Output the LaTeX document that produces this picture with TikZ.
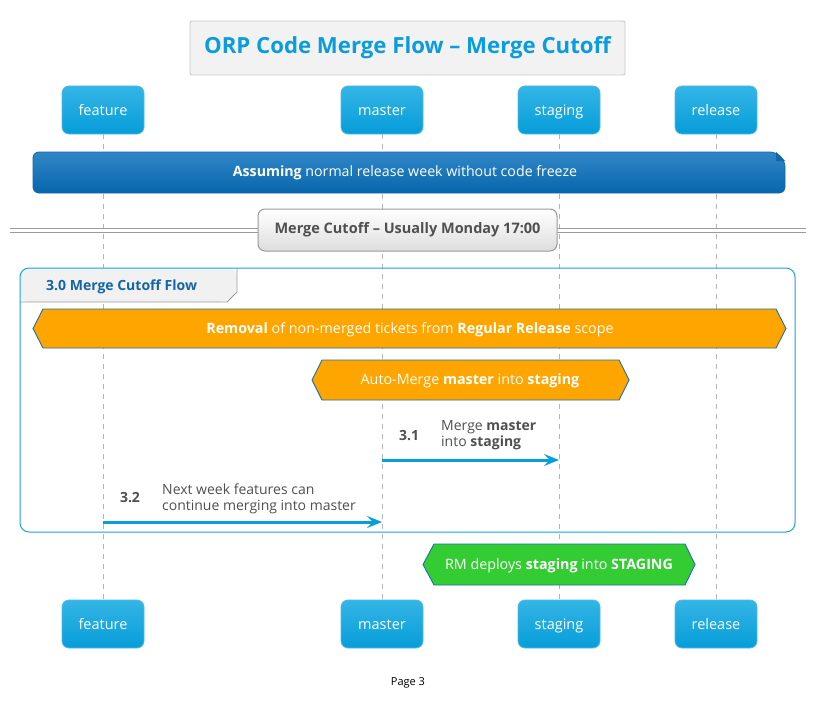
\documentclass[tikz,border=0pt]{standalone}
\usepackage{fontspec}
\setmainfont{Open Sans}
\usetikzlibrary{arrows.meta}
\definecolor{ptop}{HTML}{34B5E6}
\definecolor{pbot}{HTML}{069DD9}
\definecolor{pborder}{HTML}{4FBDE8}
\definecolor{titleblue}{HTML}{0A9CDB}
\definecolor{titlefill}{HTML}{F2F2F2}
\definecolor{titleline}{HTML}{C8C8C8}
\definecolor{notetop}{HTML}{3087C6}
\definecolor{notebot}{HTML}{0866AD}
\definecolor{noteline}{HTML}{1167A8}
\definecolor{grpblue}{HTML}{1AA3DE}
\definecolor{grphead}{HTML}{F1F1F1}
\definecolor{grptext}{HTML}{1565A6}
\definecolor{orangefill}{HTML}{FFA500}
\definecolor{hexline}{HTML}{1A72A8}
\definecolor{greenfill}{HTML}{33CC33}
\definecolor{msgblue}{HTML}{079FDB}
\definecolor{msgtext}{HTML}{505050}
\definecolor{lifeline}{HTML}{B4B4B4}
\definecolor{divline}{HTML}{9A9A9A}
\definecolor{divtext}{HTML}{505050}
\tikzset{
  part/.style={rounded corners=7pt, top color=ptop, bottom color=pbot, draw=pborder, line width=0.8pt,
    minimum width=82pt, minimum height=48pt, text=white, font=\fontsize{14.5}{16}\selectfont, inner sep=0pt,
    text height=12.5pt, text depth=2pt},
  life/.style={lifeline, line width=0.8pt, dash pattern=on 5pt off 5pt},
  hexfill/.style={draw=hexline, line width=0.9pt},
  hextext/.style={text=white, font=\fontsize{14.3}{16}\selectfont, inner sep=0pt, text height=11.5pt, text depth=3pt},
  msg/.style={msgblue, line width=3pt, -{Stealth[length=15pt,width=12pt,inset=6pt]}},
  msgnum/.style={text=msgtext, font=\bfseries\fontsize{14}{16}\selectfont, inner sep=0pt},
  msglbl/.style={text=msgtext, font=\fontsize{14}{16}\selectfont, align=left, inner sep=0pt, anchor=west}
}
\begin{document}
\begin{tikzpicture}[x=1pt,y=-1pt]
\useasboundingbox (0,0) rectangle (817,725);
\fill[white] (0,0) rectangle (817,725);

% title
\node[draw=titleline, fill=titlefill, rounded corners=2pt, line width=0.8pt,
  minimum width=435pt, minimum height=54pt, inner sep=0pt, text=titleblue,
  font=\bfseries\fontsize{22.2}{26}\selectfont] (title) at (407.5,48) {ORP Code Merge Flow – Merge Cutoff};

% participants
\node[part] (f1) at (103,110) {feature};
\node[part] (m1) at (382,110) {master};
\node[part] (s1) at (559,110) {staging};
\node[part] (r1) at (716,110) {release};
\node[part] (f2) at (103,624) {feature};
\node[part] (m2) at (382,624) {master};
\node[part] (s2) at (559,624) {staging};
\node[part] (r2) at (716,624) {release};

% lifelines
\draw[life] (f1.south) -- (f2.north);
\draw[life] (m1.south) -- (m2.north);
\draw[life] (s1.south) -- (s2.north);
\draw[life] (r1.south) -- (r2.north);

% note
\shade[top color=notetop, bottom color=notebot, rounded corners=6pt]
  (33,152) -- (776,152) -- (785,161) -- (785,193) -- (33,193) -- cycle;
\draw[noteline, line width=0.8pt, rounded corners=6pt]
  (33,152) -- (776,152) -- (785,161) -- (785,193) -- (33,193) -- cycle;
\fill[noteline] (776,152) -- (776,161) -- (785,161) -- cycle;
\node[text=white, font=\fontsize{14.2}{16}\selectfont, inner sep=0pt] (note) at (405,173)
  {\textbf{Assuming} normal release week without code freeze};

% divider
\draw[divline, line width=0.9pt] (10,228.5) -- (806,228.5);
\draw[divline, line width=0.9pt] (10,232) -- (806,232);
\node[draw=divline, rounded corners=7pt, line width=1pt, top color=white, bottom color=black!13,
  minimum width=299pt, minimum height=42pt, inner sep=0pt, text=divtext,
  font=\bfseries\fontsize{14.5}{16}\selectfont] (div) at (407.5,230) {Merge Cutoff – Usually Monday 17:00};

% group
\fill[grphead, rounded corners=8pt] (20,302) -- (20,268) -- (237,268) -- (237,292) -- (227,302) -- cycle;
\draw[divline, line width=0.8pt] (20,302) -- (227,302) -- (237,292) -- (237,268);
\draw[grpblue, line width=1pt, rounded corners=9pt] (20,268) rectangle (795,532);
\node[anchor=west, text=grptext, font=\bfseries\fontsize{14}{16}\selectfont, inner sep=0pt] (grp) at (46,287) {3.0 Merge Cutoff Flow};

% hexagon: removal
\filldraw[hexfill, fill=orangefill] (33,328.5) -- (43,309) -- (776,309) -- (786,328.5) -- (776,348) -- (43,348) -- cycle;
\node[hextext] (rem) at (410,329) {\textbf{Removal} of non-merged tickets from \textbf{Regular Release} scope};

% hexagon: auto-merge
\filldraw[hexfill, fill=orangefill] (312,380) -- (322,360) -- (619,360) -- (629,380) -- (619,400) -- (322,400) -- cycle;
\node[hextext] (auto) at (470,380) {Auto-Merge \textbf{master} into \textbf{staging}};

% message 3.1
\coordinate (a31s) at (m1.south |- 0,460);
\coordinate (a31e) at (s1.south |- 0,460);
\draw[msg] (a31s) -- (a31e);
\node[msgnum] (n31) at (409,436) {3.1};
\node[msglbl] (l31) at (441,435.5) {Merge \textbf{master}\\into \textbf{staging}};

% message 3.2
\coordinate (a32s) at (f1.south |- 0,522);
\coordinate (a32e) at (m1.south |- 0,522);
\draw[msg] (a32s) -- (a32e);
\node[msgnum] (n32) at (130,498) {3.2};
\node[msglbl] (l32) at (162,498.5) {Next week features can\\continue merging into master};

% hexagon: RM deploys
\filldraw[hexfill, fill=greenfill] (423,564.5) -- (434,544) -- (685,544) -- (695,564.5) -- (685,585) -- (434,585) -- cycle;
\node[hextext] (rm) at (559,565) {RM deploys \textbf{staging} into \textbf{STAGING}};

% footer
\node[font=\fontsize{11}{13}\selectfont, inner sep=0pt] (page) at (408,683) {Page 3};
\end{tikzpicture}
\end{document}
